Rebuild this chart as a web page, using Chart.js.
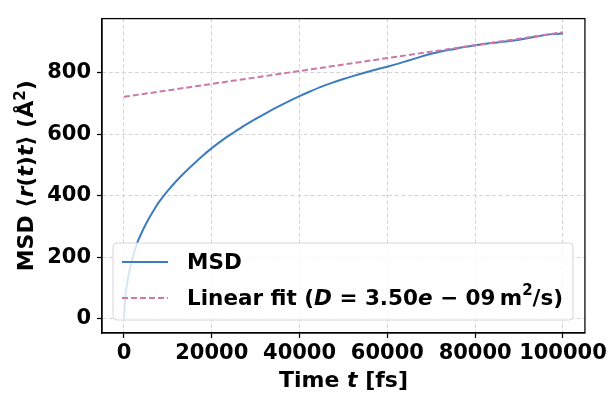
<!DOCTYPE html>
<html>
<head>
<meta charset="utf-8">
<script src="https://cdn.jsdelivr.net/npm/chart.js@4.4.1/dist/chart.umd.min.js"></script>
<style>
  html, body { margin: 0; padding: 0; background: #fff; }
  #wrap { width: 611px; height: 394px; }
</style>
</head>
<body>
<div id="wrap"><canvas id="c" width="611" height="394"></canvas></div>
<script>
// ---- data ----
const timeFs = [0, 250, 500, 1000, 2000, 3000, 4000, 5000, 6000, 7000, 8000, 9000, 10000, 12000, 14000, 16000, 18000,
  20000, 22500, 25000, 27500, 30000, 32500, 35000, 37500, 40000, 42500, 45000, 47500, 50000,
  52500, 55000, 57500, 60000, 62500, 65000, 67500, 70000, 72500, 75000, 77500, 80000, 82500,
  85000, 87500, 90000, 92500, 95000, 97500, 100000];
const msdValues = [0, 62, 95, 138, 200, 246, 279, 308, 334, 358, 380, 399, 417, 449, 478, 505, 531,
  555, 582, 606, 629, 650, 670, 689, 707, 724, 740, 755, 768, 780,
  791, 801, 811, 820, 830, 841, 852, 862, 870, 877, 884, 890, 895,
  899, 903, 908, 914, 921, 926, 928];
const fitTime = [0, 100000];
const fitValues = [722, 932];
const xTicks = [0, 20000, 40000, 60000, 80000, 100000];
const yTicks = [0, 200, 400, 600, 800];
const seriesNames = ['MSD', 'Linear fit'];

const FONT = '"DejaVu Sans", sans-serif';
const blue = '#3d7dbf';
const pink = '#cc79a7';

function segText(ctx, segs, x, y, size) {
  let cx = x;
  for (const s of segs) {
    ctx.font = (s.it ? 'italic ' : '') + 'bold ' + (s.size || size) + 'px ' + FONT;
    const dy = s.sup ? -size * 0.38 : 0;
    ctx.fillText(s.t, cx, y + dy);
    cx += ctx.measureText(s.t).width;
  }
  return cx - x;
}
function segWidth(ctx, segs, size) {
  let w = 0;
  for (const s of segs) {
    ctx.font = (s.it ? 'italic ' : '') + 'bold ' + (s.size || size) + 'px ' + FONT;
    w += ctx.measureText(s.t).width;
  }
  return w;
}

const decor = {
  id: 'decor',
  afterDatasetsDraw(chart) {
    const ctx = chart.ctx;
    // legend
    const lx = 113, ly = 243, lw = 460, lh = 77, r = 4;
    ctx.save();
    ctx.beginPath();
    ctx.roundRect(lx, ly, lw, lh, r);
    ctx.fillStyle = 'rgba(255,255,255,0.8)';
    ctx.fill();
    ctx.strokeStyle = '#d6d6d6';
    ctx.lineWidth = 1;
    ctx.stroke();
    ctx.lineWidth = 2;
    ctx.strokeStyle = blue;
    ctx.beginPath(); ctx.moveTo(122, 262); ctx.lineTo(168, 262); ctx.stroke();
    ctx.strokeStyle = pink;
    ctx.setLineDash([6, 3]);
    ctx.beginPath(); ctx.moveTo(122, 298); ctx.lineTo(168, 298); ctx.stroke();
    ctx.setLineDash([]);
    ctx.fillStyle = '#000';
    ctx.textBaseline = 'middle';
    ctx.textAlign = 'left';
    segText(ctx, [{t: seriesNames[0]}], 187, 263, 21.5);
    segText(ctx, [{t: seriesNames[1] + ' ('}, {t: 'D', it: true}, {t: ' = 3.50'}, {t: 'e', it: true},
      {t: ' \u2212 09\u2009m'}, {t: '2', sup: true, size: 15}, {t: '/s)'}], 187, 299, 21.5);
    ctx.restore();
  },
  afterDraw(chart) {
    const ctx = chart.ctx;
    const a = chart.chartArea;
    ctx.save();
    ctx.strokeStyle = '#000';
    ctx.lineWidth = 1.25;
    ctx.strokeRect(a.left, a.top, a.right - a.left, a.bottom - a.top);
    ctx.fillStyle = '#000';
    ctx.textBaseline = 'alphabetic';
    // x title
    const xs = [{t: 'Time '}, {t: 't', it: true}, {t: ' [fs]'}];
    const xw = segWidth(ctx, xs, 22);
    segText(ctx, xs, (a.left + a.right) / 2 - xw / 2, 387, 22);
    // y title
    const ys = [{t: 'MSD \u27E8'}, {t: 'r', it: true}, {t: '('}, {t: 't', it: true}, {t: ')'},
      {t: 't', it: true}, {t: '\u27E9 (\u00C5'}, {t: '2', sup: true, size: 15}, {t: ')'}];
    const yw = segWidth(ctx, ys, 22);
    ctx.translate(33, (a.top + a.bottom) / 2);
    ctx.rotate(-Math.PI / 2);
    segText(ctx, ys, -yw / 2, 0, 22);
    ctx.restore();
  }
};

const gridOpts = { color: '#d4d4d4', lineWidth: 1, tickLength: 5,
  tickColor: '#000', tickWidth: 1.25, tickBorderDash: [10, 0] };
const borderOpts = { display: true, color: '#000', width: 1.25, dash: [4, 2.5] };

new Chart(document.getElementById('c'), {
  type: 'line',
  data: {
    datasets: [
      {
        label: seriesNames[0],
        data: timeFs.map((t, i) => ({x: t, y: msdValues[i]})),
        borderColor: blue, borderWidth: 2, pointRadius: 0, fill: false,
        cubicInterpolationMode: 'monotone', order: 1
      },
      {
        label: seriesNames[1],
        data: fitTime.map((t, i) => ({x: t, y: fitValues[i]})),
        borderColor: pink, borderWidth: 2, borderDash: [6, 3], pointRadius: 0, fill: false,
        order: 0
      }
    ]
  },
  options: {
    responsive: false,
    animation: false,
    devicePixelRatio: 1,
    layout: { padding: { left: 0, top: 12, right: 26, bottom: 0 } },
    plugins: { legend: { display: false }, tooltip: { enabled: false } },
    scales: {
      x: {
        type: 'linear', min: -5000, max: 105000,
        afterBuildTicks: s => { s.ticks = xTicks.map(v => ({value: v})); },
        afterFit: s => { s.height = 61; },
        grid: gridOpts,
        border: borderOpts,
        ticks: { color: '#000', font: { family: FONT, size: 21, weight: 'bold' }, padding: 3,
                 maxRotation: 0, autoSkip: false, callback: v => String(v) }
      },
      y: {
        type: 'linear', min: -46.5, max: 976.5,
        afterBuildTicks: s => { s.ticks = yTicks.map(v => ({value: v})); },
        afterFit: s => { s.width = 102; },
        grid: gridOpts,
        border: borderOpts,
        ticks: { color: '#000', font: { family: FONT, size: 21, weight: 'bold' }, padding: 6,
                 autoSkip: false, callback: v => String(v) }
      }
    }
  },
  plugins: [decor]
});
</script>
</body>
</html>
